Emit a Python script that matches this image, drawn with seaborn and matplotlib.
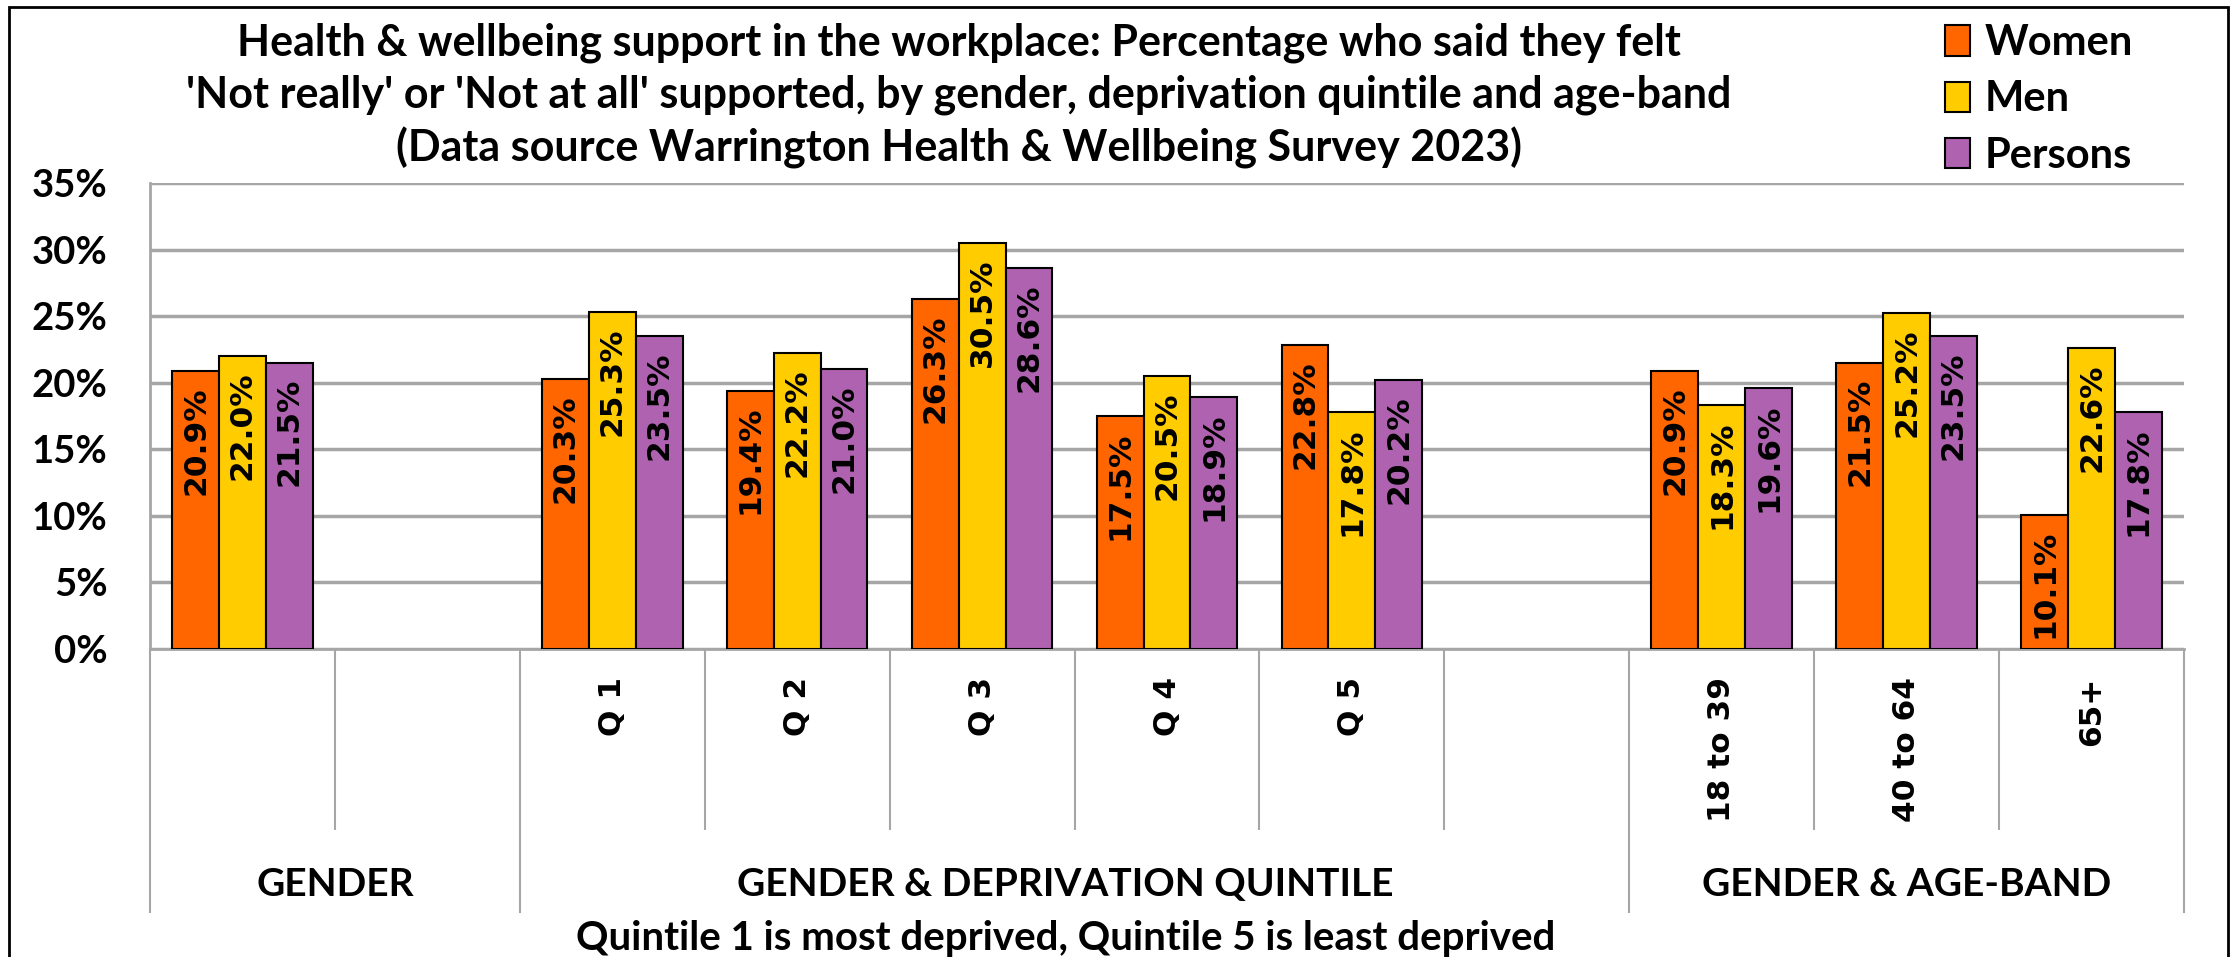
import pandas as pd
import numpy as np
import seaborn as sns
import matplotlib.pyplot as plt
from matplotlib.patches import Patch, Rectangle

# data
categories = ['All', 'Q 1', 'Q 2', 'Q 3', 'Q 4', 'Q 5', '18 to 39', '40 to 64', '65+']
women = [20.9, 20.3, 19.4, 26.3, 17.5, 22.8, 20.9, 21.5, 10.1]
men = [22.0, 25.3, 22.2, 30.5, 20.5, 17.8, 18.3, 25.2, 22.6]
persons = [21.5, 23.5, 21.0, 28.6, 18.9, 20.2, 19.6, 23.5, 17.8]
series = ['Women', 'Men', 'Persons']
colours = ['#FF6600', '#FFCC00', '#AF62AF']

# slots on the x axis (two blank slots separate the groups)
slot_order = ['All', 'gap1', 'Q 1', 'Q 2', 'Q 3', 'Q 4', 'Q 5', 'gap2', '18 to 39', '40 to 64', '65+']
tick_labels = ['', '', 'Q 1', 'Q 2', 'Q 3', 'Q 4', 'Q 5', '', '18 to 39', '40 to 64', '65+']
group_names = ['GENDER', 'GENDER & DEPRIVATION QUINTILE', 'GENDER & AGE-BAND']
group_centres = [0.5, 4.45, 9.0]
long_bounds = [-0.5, 1.5, 7.5, 10.5]
short_bounds = [0.5, 2.5, 3.5, 4.5, 5.5, 6.5, 8.5, 9.5]

title_lines = [
    "Health & wellbeing support in the workplace: Percentage who said they felt",
    "'Not really' or 'Not at all' supported, by gender, deprivation quintile and age-band",
    "(Data source Warrington Health & Wellbeing Survey 2023)",
]
footnote = 'Quintile 1 is most deprived, Quintile 5 is least deprived'

df = pd.DataFrame({'group': categories, 'Women': women, 'Men': men, 'Persons': persons})
df = df.melt(id_vars='group', var_name='sex', value_name='pct')

sns.set_style('white')
plt.rcParams['font.family'] = ['Lato', 'DejaVu Sans']
plt.rcParams['text.color'] = 'black'
plt.rcParams['xtick.labelcolor'] = 'black'
plt.rcParams['ytick.labelcolor'] = 'black'
grey = '#A6A6A6'

W, H = 2237, 957
fig = plt.figure(figsize=(W / 100, H / 100), dpi=100)
ax = fig.add_axes([150 / W, 1 - 649 / H, (2184 - 150) / W, 466 / H])

sns.barplot(data=df, x='group', y='pct', hue='sex', order=slot_order, hue_order=series,
            palette=colours, width=0.76, edgecolor='black', linewidth=1.5, saturation=1,
            errorbar=None, legend=False, ax=ax, zorder=3)

# value labels, rotated, inside the top of each bar
for cont in ax.containers:
    for rect, v in zip(cont, cont.datavalues):
        ax.annotate(f'{v:.1f}%', (rect.get_x() + rect.get_width() / 2, rect.get_height()),
                    xytext=(0, -11), textcoords='offset points', rotation=90,
                    ha='center', va='top', fontsize=22.5, fontweight='bold',
                    family='DejaVu Sans', color='black', zorder=4)

ax.set_ylim(0, 35)
ax.set_yticks(range(0, 36, 5))
ax.set_yticklabels([f'{t}%' for t in range(0, 36, 5)], fontsize=27.5, fontweight='bold')
ax.set_xlim(-0.5, 10.5)
ax.set_xticks(range(len(slot_order)))
ax.set_xticklabels(tick_labels, rotation=90, fontsize=22.5, fontweight='bold', family='DejaVu Sans')
ax.tick_params(axis='y', direction='out', length=9.5, width=2, color=grey, pad=21, labelcolor='black')
ax.tick_params(axis='x', length=0, pad=20, labelcolor='black')
ax.set_xlabel('')
ax.set_ylabel('')
ax.yaxis.grid(True, color=grey, lw=2.5)
ax.xaxis.grid(False)
ax.set_axisbelow(True)
for s in ['top', 'right']:
    ax.spines[s].set_visible(False)
for s in ['left', 'bottom']:
    ax.spines[s].set_color(grey)
    ax.spines[s].set_linewidth(2)

# category separators below the axis
xt = ax.get_xaxis_transform()
ax.vlines(short_bounds, -0.388, 0, transform=xt, color=grey, lw=1.5, clip_on=False)
ax.vlines(long_bounds, -0.567, 0, transform=xt, color=grey, lw=1.5, clip_on=False)

for name, xc in zip(group_names, group_centres):
    ax.text(xc, -0.506, name, transform=xt, ha='center', va='center', fontsize=28,
            fontweight='bold', color='black')
ax.text(4.45, -0.622, footnote, transform=xt, ha='center', va='center', fontsize=29,
        fontweight='bold', color='black')

# title
for line, y in zip(title_lines, [43, 95, 148]):
    fig.text(959 / W, 1 - y / H, line, ha='center', va='center', fontsize=31,
             fontweight='bold', color='black')

handles = [Patch(facecolor=c, edgecolor='black', lw=1.5) for c in colours]
leg = fig.legend(handles, series, loc='upper left', bbox_to_anchor=(1945 / W, 1 - 24 / H),
                 frameon=False, prop={'family': 'Lato', 'weight': 'bold', 'size': 30},
                 handlelength=0.6, handleheight=0.75, handletextpad=0.35, labelspacing=0.44,
                 borderpad=0, borderaxespad=0)
for t in leg.get_texts():
    t.set_color('black')

fig.add_artist(Rectangle((9 / W, -0.02), (2228 - 9) / W, 1.02 - 7 / H, fill=False,
                         ec='black', lw=2, transform=fig.transFigure))

fig.savefig('out.png', dpi=100)
